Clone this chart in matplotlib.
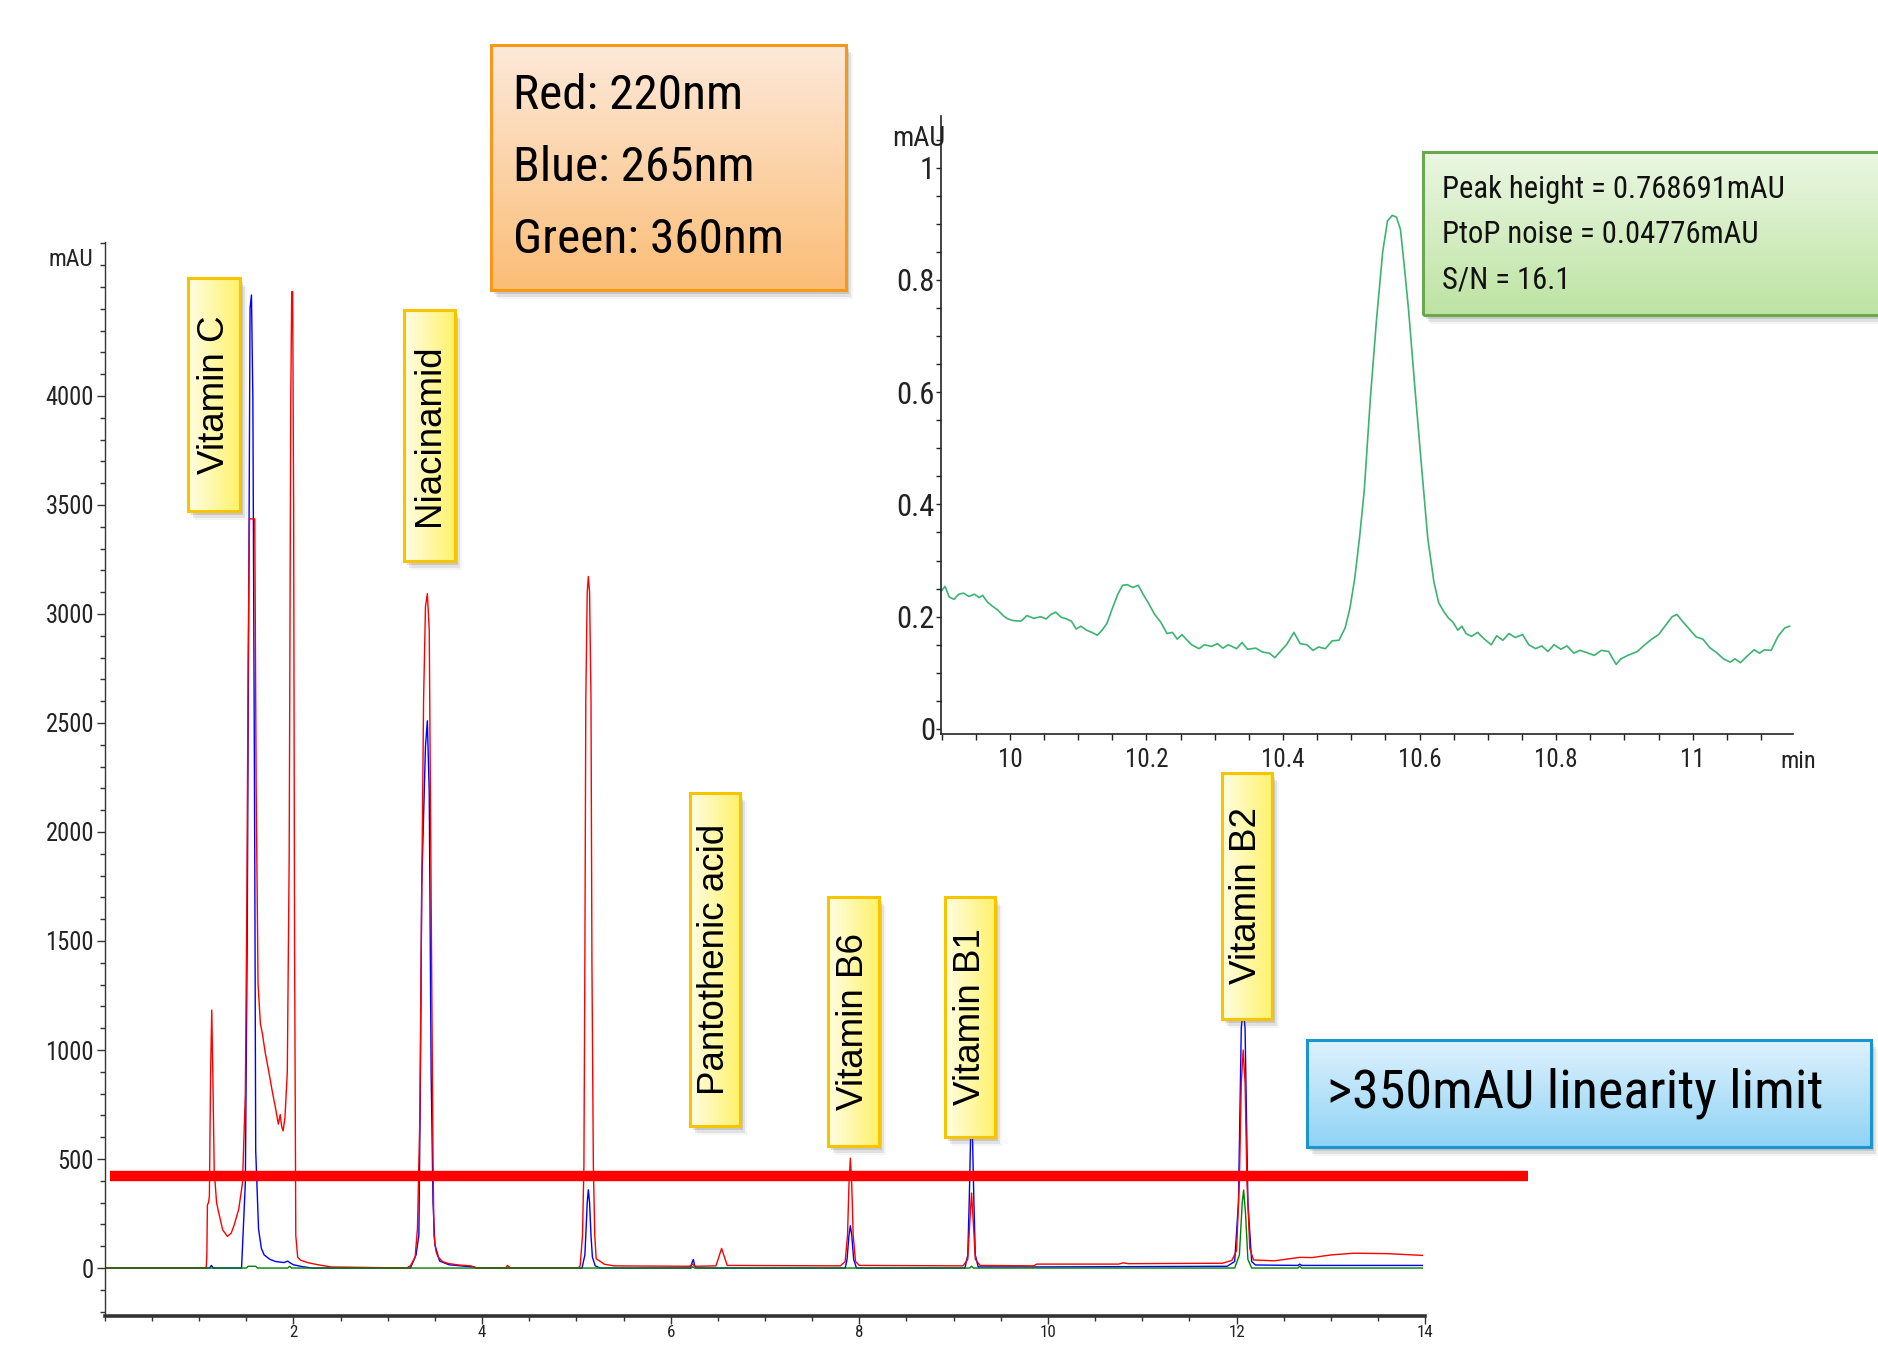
import numpy as np
import matplotlib
matplotlib.use('Agg')
import matplotlib.pyplot as plt
from matplotlib import font_manager as fm
from matplotlib.font_manager import FontProperties
from matplotlib.patches import Rectangle
from matplotlib.colors import LinearSegmentedColormap
from matplotlib.ticker import FixedLocator, MultipleLocator

# ---------------------------
# data: chromatogram traces (time in min, signal in mAU)
# ---------------------------
red_t = [0.00, 1.075, 1.082, 1.088, 1.100, 1.109, 1.122, 1.134, 1.145, 1.160, 1.185, 1.210,
         1.250, 1.300, 1.340, 1.370, 1.420, 1.460, 1.490, 1.505, 1.520, 1.534, 1.590, 1.605,
         1.625, 1.650, 1.670, 1.700, 1.740, 1.780, 1.810, 1.840, 1.860, 1.875, 1.890, 1.910,
         1.935, 1.955, 1.972, 1.982, 1.992, 2.002, 2.012, 2.025, 2.045, 2.075, 2.150, 2.260,
         2.400, 3.200, 3.240, 3.290, 3.315, 3.340, 3.360, 3.380, 3.400, 3.420, 3.440, 3.455,
         3.465, 3.480, 3.490, 3.510, 3.530, 3.580, 3.640, 3.750, 3.880, 3.950, 4.250, 4.270,
         4.300, 5.020, 5.040, 5.065, 5.080, 5.090, 5.100, 5.115, 5.127, 5.140, 5.155, 5.165,
         5.180, 5.195, 5.210, 5.300, 5.400, 6.200, 6.230, 6.260, 6.480, 6.510, 6.540, 6.570,
         6.600, 7.800, 7.850, 7.875, 7.890, 7.905, 7.920, 7.935, 7.960, 8.000, 9.100, 9.150,
         9.170, 9.190, 9.210, 9.230, 9.280, 9.850, 9.880, 10.750, 10.800, 10.850, 11.850,
         11.950, 12.000, 12.030, 12.050, 12.070, 12.090, 12.110, 12.140, 12.180, 12.400,
         12.670, 12.800, 13.000, 13.240, 13.600, 13.970]
red_v = [0, 0, 60, 290, 300, 330, 900, 1183, 900, 450, 300, 250,
         175, 145, 160, 195, 270, 390, 800, 1600, 2785, 3436, 3436, 2200,
         1300, 1120, 1078, 990, 898, 800, 734, 660, 704, 650, 629, 689,
         900, 1887, 4000, 4478, 4478, 3500, 1500, 150, 50, 36, 25, 15,
         5, 0, 10, 50, 180, 683, 1700, 2606, 3033, 3093, 2926, 2000,
         1324, 500, 150, 80, 53, 30, 21, 14, 10, 0, 0, 12,
         0, 0, 10, 150, 470, 1400, 2606, 3100, 3172, 3100, 2606, 1400,
         470, 150, 43, 17, 10, 8, 18, 8, 10, 50, 90, 50,
         12, 10, 30, 150, 380, 504, 380, 150, 30, 12, 10, 40,
         200, 344, 200, 40, 12, 10, 18, 18, 24, 20, 22,
         35, 80, 400, 850, 1000, 850, 400, 90, 37, 33,
         49, 48, 60, 68, 66, 58]

blue_t = [0.00, 1.110, 1.130, 1.150, 1.450, 1.490, 1.510, 1.520, 1.540, 1.555, 1.570, 1.590,
          1.600, 1.630, 1.660, 1.690, 1.750, 1.810, 1.900, 1.940, 1.960, 2.000, 2.100, 2.200,
          3.240, 3.300, 3.330, 3.345, 3.360, 3.400, 3.420, 3.440, 3.460, 3.480, 3.500, 3.550,
          3.650, 3.900, 3.950, 5.060, 5.090, 5.100, 5.115, 5.127, 5.140, 5.155, 5.170, 5.200,
          5.250, 6.210, 6.230, 6.240, 6.255, 6.270, 7.850, 7.870, 7.890, 7.905, 7.920, 7.940,
          7.970, 9.120, 9.150, 9.165, 9.180, 9.190, 9.200, 9.215, 9.230, 9.260, 9.850, 11.900,
          11.980, 12.020, 12.050, 12.070, 12.090, 12.120, 12.160, 12.200, 12.650, 12.670,
          12.690, 13.970]
blue_v = [0, 0, 12, 0, 0, 390, 1500, 2486, 4403, 4463, 3984, 1887,
          539, 180, 90, 60, 40, 30, 25, 32, 25, 15, 6, 0,
          0, 60, 150, 800, 1751, 2392, 2510, 2179, 897, 300, 107, 32,
          15, 5, 0, 0, 60, 150, 300, 359, 300, 150, 50, 10,
          0, 0, 30, 39, 10, 0, 0, 40, 150, 194, 150, 40,
          0, 0, 60, 300, 600, 640, 600, 300, 60, 5, 5, 8,
          30, 300, 1100, 1200, 1100, 300, 30, 14, 12, 18,
          12, 12]

green_t = [0.00, 1.500, 1.520, 1.600, 1.620, 1.940, 1.960, 1.980, 6.220, 6.235, 6.250,
           9.170, 9.190, 9.210, 11.980, 12.030, 12.060, 12.075, 12.095, 12.120, 12.160,
           12.650, 12.670, 12.690, 13.970]
green_v = [0, 0, 8, 8, 0, 0, 8, 0, 0, 6, 0,
           0, 8, 0, 0, 60, 300, 358, 250, 40, 0,
           0, 8, 0, 0]

limit_mau = 423
limit_span = [0.055, 15.09]

# zoomed 360nm trace around 10.5 min
zoom_t = [9.899, 9.905, 9.911, 9.918, 9.925, 9.932, 9.940, 9.948, 9.955, 9.960, 9.967, 9.974,
          9.982, 9.990, 9.997, 10.005, 10.016, 10.025, 10.035, 10.045, 10.053, 10.060, 10.067,
          10.075, 10.083, 10.090, 10.097, 10.104, 10.112, 10.120, 10.128, 10.135, 10.142,
          10.151, 10.158, 10.165, 10.172, 10.180, 10.188, 10.195, 10.202, 10.212, 10.221,
          10.230, 10.238, 10.245, 10.252, 10.258, 10.266, 10.277, 10.285, 10.295, 10.304,
          10.312, 10.320, 10.332, 10.340, 10.348, 10.360, 10.370, 10.380, 10.388, 10.396,
          10.405, 10.416, 10.425, 10.435, 10.444, 10.452, 10.462, 10.472, 10.482, 10.491,
          10.498, 10.505, 10.512, 10.519, 10.528, 10.537, 10.546, 10.553, 10.560, 10.566,
          10.572, 10.578, 10.584, 10.593, 10.602, 10.612, 10.621, 10.628, 10.635, 10.642,
          10.649, 10.656, 10.662, 10.668, 10.676, 10.685, 10.695, 10.705, 10.713, 10.722,
          10.731, 10.740, 10.751, 10.760, 10.770, 10.779, 10.788, 10.797, 10.807, 10.816,
          10.826, 10.835, 10.845, 10.856, 10.866, 10.877, 10.883, 10.888, 10.895, 10.905,
          10.919, 10.930, 10.940, 10.950, 10.960, 10.970, 10.977, 10.985, 10.995, 11.005,
          11.015, 11.025, 11.035, 11.045, 11.055, 11.062, 11.070, 11.080, 11.090, 11.098,
          11.105, 11.115, 11.125, 11.135, 11.142]
zoom_v = [0.245, 0.254, 0.235, 0.231, 0.240, 0.242, 0.236, 0.240, 0.234, 0.238, 0.226, 0.219,
          0.212, 0.202, 0.196, 0.193, 0.192, 0.202, 0.197, 0.200, 0.196, 0.204, 0.208,
          0.199, 0.196, 0.192, 0.178, 0.183, 0.176, 0.172, 0.167, 0.176, 0.188,
          0.218, 0.240, 0.256, 0.257, 0.252, 0.256, 0.240, 0.226, 0.204, 0.190,
          0.170, 0.172, 0.160, 0.168, 0.160, 0.150, 0.143, 0.150, 0.147, 0.152,
          0.144, 0.150, 0.143, 0.154, 0.142, 0.144, 0.137, 0.135, 0.127, 0.138,
          0.150, 0.172, 0.152, 0.150, 0.140, 0.146, 0.143, 0.157, 0.158, 0.180,
          0.215, 0.268, 0.340, 0.425, 0.590, 0.730, 0.850, 0.905, 0.915, 0.912,
          0.890, 0.820, 0.745, 0.610, 0.480, 0.340, 0.262, 0.225, 0.210, 0.198,
          0.190, 0.176, 0.183, 0.170, 0.165, 0.172, 0.160, 0.150, 0.166, 0.158,
          0.170, 0.163, 0.168, 0.150, 0.143, 0.148, 0.138, 0.150, 0.142, 0.148,
          0.135, 0.140, 0.136, 0.131, 0.140, 0.138, 0.125, 0.115, 0.125, 0.131,
          0.138, 0.150, 0.160, 0.168, 0.184, 0.200, 0.204, 0.192, 0.178, 0.164,
          0.160, 0.145, 0.136, 0.125, 0.119, 0.125, 0.118, 0.130, 0.141, 0.135,
          0.141, 0.140, 0.165, 0.180, 0.183]

peak_labels = ['Vitamin C', 'Niacinamid', 'Pantothenic acid', 'Vitamin B6', 'Vitamin B1', 'Vitamin B2']
legend_lines = ['Red: 220nm', 'Blue: 265nm', 'Green: 360nm']
sn_lines = ['Peak height = 0.768691mAU', 'PtoP noise = 0.04776mAU', 'S/N = 16.1']
limit_text = '>350mAU linearity limit'

# ---------------------------
# fonts: look for a condensed sans, else fall back to Liberation Sans
# ---------------------------
ARIAL = ['Liberation Sans', 'DejaVu Sans']


def find_narrow():
    fonts = fm.fontManager.ttflist
    plain = lambda f: f.style == 'normal' and f.weight in (400, 'normal', 'regular')
    for f in fonts:
        if f.name in ('Liberation Sans Narrow', 'Arial Narrow') and plain(f):
            return f.fname, 0.82
    widths = {'Roboto': 0.86, 'Noto Sans': 0.88, 'Open Sans': 0.9, 'Lato': 0.85,
              'Inter': 0.9, 'DejaVu Sans': 0.97, 'Liberation Sans': 0.82}
    for base, wf in widths.items():
        for f in fonts:
            if plain(f) and (f.name == base + ' Condensed' or
                             (f.name == base and f.stretch in ('condensed', 'semi-condensed'))):
                return f.fname, wf
    return None, 1.0


NPATH, WF = find_narrow()


def NF(size):
    # size is given for Liberation Sans; a condensed face gets a larger size for the same width
    if NPATH:
        return FontProperties(fname=NPATH, size=size / WF)
    return FontProperties(family='Liberation Sans', size=size)


plt.rcParams['font.family'] = ARIAL

# ---------------------------
# layout helpers (pixel boxes, origin top-left)
# ---------------------------
W, H = 1878, 1345
fig = plt.figure(figsize=(W / 100, H / 100), dpi=100)


def rect(x0, y0, x1, y1):
    return [x0 / W, 1 - y1 / H, (x1 - x0) / W, (y1 - y0) / H]


def grad_box(x0, y0, x1, y1, c0, c1, edge, horizontal=False, z=5):
    # soft drop shadow
    for dx, dy, a in [(3, 4, 0.18), (5, 7, 0.12), (7, 9, 0.06)]:
        fig.patches.append(Rectangle(((x0 + dx) / W, 1 - (y1 + dy) / H), (x1 - x0) / W, (y1 - y0) / H,
                                     transform=fig.transFigure, facecolor='#555555', alpha=a,
                                     lw=0, zorder=z - 0.5))
    bx = fig.add_axes(rect(x0, y0, x1, y1), zorder=z)
    cmap = LinearSegmentedColormap.from_list('g', [c0, c1])
    g = np.linspace(0, 1, 256)
    img = g[None, :] if horizontal else g[:, None]
    bx.imshow(img, cmap=cmap, aspect='auto', extent=[0, 1, 0, 1], origin='upper')
    bx.set_xlim(0, 1)
    bx.set_ylim(0, 1)
    bx.axis('off')
    bx.add_patch(Rectangle((0, 0), 1, 1, transform=bx.transAxes, fill=False,
                           ec=edge, lw=2.2, clip_on=False))
    return bx


# ---------------------------
# main chromatogram
# ---------------------------
ax = fig.add_axes(rect(104.8, 242, 1425.2, 1316), zorder=0)
ax.plot(blue_t, blue_v, color='#0000ff', lw=1.0, zorder=2)
ax.plot(red_t, red_v, color='#ff0000', lw=1.0, zorder=2.1)
ax.plot(green_t, green_v, color='#008000', lw=1.0, zorder=2.2)
ax.plot(limit_span, [limit_mau, limit_mau], color='#ff0000', lw=7.5,
        solid_capstyle='butt', clip_on=False, zorder=3)

ax.set_xlim(0, 14)
ax.set_ylim(-220, 4706)
for s in ['top', 'right']:
    ax.spines[s].set_visible(False)
ax.spines['bottom'].set_linewidth(2.6)
ax.spines['bottom'].set_color('#333333')
ax.spines['left'].set_linewidth(1.0)
ax.spines['left'].set_color('#333333')

ax.xaxis.set_major_locator(FixedLocator([2, 4, 6, 8, 10, 12, 14]))
ax.xaxis.set_minor_locator(MultipleLocator(0.5))
ax.tick_params(axis='x', which='major', length=5.8, width=1.0, pad=0.6,
               color='#333333', labelcolor='#222222')
ax.tick_params(axis='x', which='minor', length=3.4, width=1.0, color='#333333')
ax.yaxis.set_major_locator(FixedLocator(list(range(0, 4001, 500))))
ax.yaxis.set_minor_locator(FixedLocator(list(range(-200, 4701, 100))))
ax.tick_params(axis='y', which='major', length=5.8, width=1.0, pad=2,
               color='#333333', labelcolor='#222222')
ax.tick_params(axis='y', which='minor', length=3.6, width=1.0, color='#333333')
for lbl in ax.get_xticklabels():
    lbl.set_fontproperties(NF(10.5))
for lbl in ax.get_yticklabels():
    lbl.set_fontproperties(NF(15.2))
fig.text(93 / W, 1 - 259 / H, 'mAU', ha='right', va='center', fontproperties=NF(14.7),
         color='#222222')

# ---------------------------
# zoomed inset
# ---------------------------
axi = fig.add_axes(rect(941, 116, 1793, 734), zorder=1)
axi.set_facecolor('none')
axi.plot(zoom_t, zoom_v, color='#3cb371', lw=1.2)
axi.set_xlim(9.899, 11.147)
axi.set_ylim(-0.009, 1.092)
for s in ['top', 'right']:
    axi.spines[s].set_visible(False)
for s in ['left', 'bottom']:
    axi.spines[s].set_linewidth(1.2)
    axi.spines[s].set_color('#222222')
axi.xaxis.set_major_locator(FixedLocator([10, 10.2, 10.4, 10.6, 10.8, 11]))
axi.set_xticklabels(['10', '10.2', '10.4', '10.6', '10.8', '11'])
axi.xaxis.set_minor_locator(MultipleLocator(0.05))
axi.yaxis.set_major_locator(FixedLocator([0, 0.2, 0.4, 0.6, 0.8, 1]))
axi.set_yticklabels(['0', '0.2', '0.4', '0.6', '0.8', '1'])
axi.yaxis.set_minor_locator(MultipleLocator(0.05))
axi.tick_params(axis='x', which='both', length=4.3, width=1.0, pad=6,
                color='#222222', labelcolor='#222222')
axi.tick_params(axis='y', which='both', length=3.6, width=1.0, pad=0.7,
                color='#222222', labelcolor='#222222')
for lbl in axi.get_xticklabels():
    lbl.set_fontproperties(NF(15.5))
for lbl in axi.get_yticklabels():
    lbl.set_fontproperties(NF(19))
fig.text(1798 / W, 1 - 762 / H, 'min', ha='center', va='center', fontproperties=NF(15),
         color='#222222')
fig.text(919 / W, 1 - 138 / H, 'mAU', ha='center', va='center', fontproperties=NF(17.5),
         color='#222222')

# ---------------------------
# annotation boxes
# ---------------------------
label_boxes = [(188, 278, 240, 511), (404, 310, 455, 561), (690, 793, 740, 1126),
               (828, 897, 879, 1146), (945, 897, 995, 1137), (1222, 773, 1272, 1019)]
for name, (x0, y0, x1, y1) in zip(peak_labels, label_boxes):
    bx = grad_box(x0, y0, x1, y1, '#fffde4', '#fff26a', '#f7c500', horizontal=True)
    bx.text(0.5, 0.5, name, rotation=90, ha='center', va='center',
            fontsize=26.5, family=ARIAL, color='black')

lg = grad_box(491, 45, 846, 290, '#fde9da', '#fbbd76', '#f7981d')
for yy, line in zip([0.792, 0.498, 0.204], legend_lines):
    lg.text(0.062, yy, line, ha='left', va='center', fontproperties=NF(30.5), color='black')

sn = grad_box(1423, 152, 1900, 315, '#ebf7e3', '#bde3a2', '#6aa84f')
for yy, line in zip([0.773, 0.491, 0.215], sn_lines):
    sn.text(0.040, yy, line, ha='left', va='center', fontproperties=NF(19), color='#111111')

lb = grad_box(1307, 1040, 1871, 1147, '#e0f2fd', '#8fd3f6', '#1995d0')
lb.text(0.035, 0.505, limit_text, ha='left', va='center', fontproperties=NF(33.5), color='black')

fig.savefig('out.png', dpi=100)
